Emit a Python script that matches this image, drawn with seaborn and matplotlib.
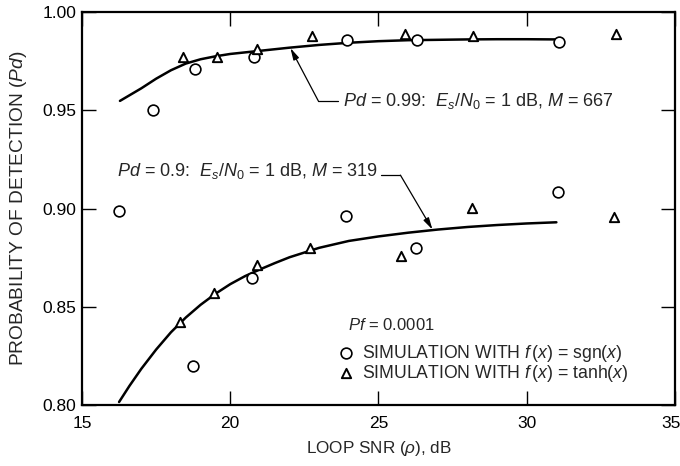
import numpy as np
import pandas as pd
import matplotlib
matplotlib.use("Agg")
import matplotlib.pyplot as plt
import matplotlib.transforms as mtransforms
import seaborn as sns

# ── data ─────────────────────────────────────────────────
sgn_snr = [16.25, 17.4, 18.75, 18.8, 20.75, 20.8, 23.95, 23.9, 26.3, 26.25, 31.1, 31.05]
sgn_pd  = [0.8985, 0.950, 0.820, 0.971, 0.8645, 0.977, 0.986, 0.896, 0.986, 0.880, 0.985, 0.9086]

tanh_snr = [18.3, 18.4, 19.45, 19.55, 20.9, 20.9, 22.7, 22.75, 25.75, 25.9, 28.15, 28.2, 32.95, 33.0]
tanh_pd  = [0.842, 0.977, 0.857, 0.977, 0.871, 0.981, 0.880, 0.988, 0.876, 0.989, 0.9005, 0.988, 0.8955, 0.989]

# Pd = 0.99 design curve
hi_snr = [16.28, 17, 17.5, 18, 18.5, 19, 19.5, 20, 21, 22, 23, 24, 25, 26, 27, 28, 29, 30, 31]
hi_pd  = [0.9548, 0.9612, 0.9661, 0.9704, 0.9738, 0.9760, 0.9775, 0.9787, 0.9803, 0.9819,
          0.9833, 0.9844, 0.9852, 0.9857, 0.9859, 0.9861, 0.9862, 0.9862, 0.9861]
# Pd = 0.9 design curve
lo_snr = [16.25, 16.6, 17, 17.5, 18, 18.5, 19, 19.5, 20, 20.5, 21, 21.5, 22,
          23, 24, 25, 26, 27, 28, 29, 30, 31]
lo_pd  = [0.8015, 0.8097, 0.8184, 0.8282, 0.8370, 0.8445, 0.8510, 0.8566, 0.8615, 0.8656,
          0.8690, 0.8722, 0.8752, 0.8800, 0.8835, 0.8858, 0.8877, 0.8893, 0.8906, 0.8916,
          0.8924, 0.8930]

x_ticks = [15, 20, 25, 30, 35]
y_ticks = [0.80, 0.85, 0.90, 0.95, 1.00]

sns.set_style("ticks")
plt.rcParams["font.family"] = ["Liberation Sans", "DejaVu Sans"]
plt.rcParams["mathtext.fontset"] = "custom"
plt.rcParams["mathtext.rm"] = "Liberation Sans"
plt.rcParams["mathtext.it"] = "Liberation Sans:italic"
plt.rcParams["mathtext.bf"] = "Liberation Sans:bold"

curves = pd.DataFrame({
    "snr": hi_snr + lo_snr,
    "pd": hi_pd + lo_pd,
    "curve": ["0.99"] * len(hi_snr) + ["0.9"] * len(lo_snr),
})

fig = plt.figure(figsize=(6.8, 4.66), dpi=100)
ax = fig.add_axes([0.1206, 0.131, 0.8720, 0.843])

sns.lineplot(data=curves, x="snr", y="pd", units="curve", estimator=None,
             color="black", lw=1.8, ax=ax, legend=False, sort=True)

h_sgn = ax.scatter(sgn_snr, sgn_pd, s=60, marker="o", facecolor="white",
                   edgecolor="black", linewidth=1.2, zorder=3,
                   label=r"SIMULATION WITH $f\,(x)$ = sgn($x$)")
h_tanh = ax.scatter(tanh_snr, tanh_pd, s=45, marker="^", facecolor="white",
                    edgecolor="black", linewidth=1.4, zorder=3,
                    label=r"SIMULATION WITH $f\,(x)$ = tanh($x$)")

ax.set_xlim(15, 35)
ax.set_ylim(0.80, 1.00)
ax.set_xticks(x_ticks)
ax.set_yticks(y_ticks)
ax.set_xticklabels([str(v) for v in x_ticks])
ax.set_yticklabels([f"{v:.2f}" for v in y_ticks])
ax.tick_params(direction="in", length=10, width=1.0, labelsize=12.5, pad=4,
               top=True, right=True, colors="black")
ax.tick_params(axis="x", pad=8)
# keep the "35" inside the canvas
last = ax.get_xticklabels()[-1]
last.set_transform(last.get_transform() + mtransforms.ScaledTranslation(-4 / 100, 0, fig.dpi_scale_trans))
for sp in ax.spines.values():
    sp.set_linewidth(1.6)
    sp.set_color("black")

ax.set_xlabel(r"LOOP SNR ($\rho$), dB", fontsize=12.3, labelpad=6)
ax.set_ylabel(r"PROBABILITY OF DETECTION ($Pd$)", fontsize=13.8, labelpad=10)

# annotations with leader lines
arrow = dict(arrowstyle="-|>,head_length=0.7,head_width=0.18", color="black",
             lw=0.9, shrinkA=0, shrinkB=0)
ax.plot([22.97, 23.65], [0.9548, 0.9548], color="black", lw=0.9)
ax.annotate("", xy=(22.03, 0.9817), xytext=(22.97, 0.9548), arrowprops=arrow)
ax.text(23.8, 0.9548, r"$Pd$ = 0.99:  $E_s/N_0$ = 1 dB, $M$ = 667",
        fontsize=13, va="center", ha="left")

ax.text(16.18, 0.919, r"$Pd$ = 0.9:  $E_s/N_0$ = 1 dB, $M$ = 319",
        fontsize=13, va="center", ha="left")
ax.plot([25.1, 25.74], [0.917, 0.917], color="black", lw=0.9)
ax.annotate("", xy=(26.82, 0.8893), xytext=(25.74, 0.917), arrowprops=arrow)

ax.text(0.449, 0.2035, r"$Pf$ = 0.0001", transform=ax.transAxes,
        fontsize=12, va="center", ha="left")
leg = ax.legend(handles=[h_sgn, h_tanh], loc="upper left",
                bbox_to_anchor=(0.437, 0.158), frameon=False, fontsize=12.7,
                handlelength=0.6, handletextpad=0.6,
                labelspacing=-0.05, borderpad=0, borderaxespad=0)

fig.savefig("out.png", dpi=100)
